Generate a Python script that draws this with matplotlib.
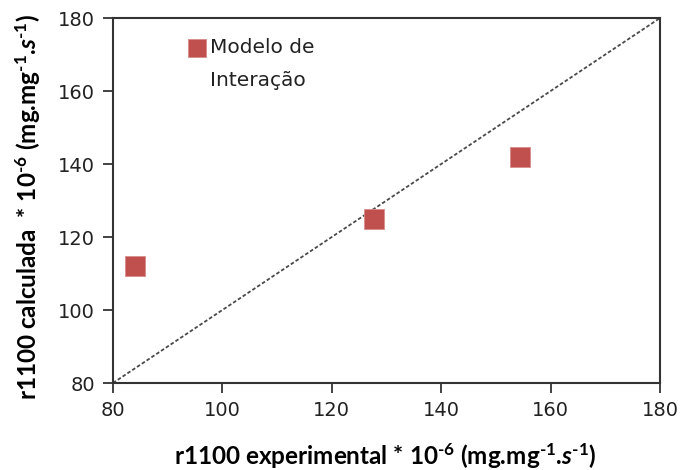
import matplotlib as mpl
import matplotlib.pyplot as plt

mpl.rcParams.update({
    "font.family": ["DejaVu Sans"],
    "mathtext.fontset": "custom",
    "mathtext.rm": "Lato:bold",
    "mathtext.it": "Lato:bold:italic",
    "mathtext.bf": "Lato:bold",
    "mathtext.default": "rm",
})

# data
r_exp = [84.0, 127.7, 154.4]
r_calc = [112.0, 125.0, 142.0]
series_label = ["Modelo de", "Interação"]
ticks = [80, 100, 120, 140, 160, 180]

RED = "#C0504D"

fig = plt.figure(figsize=(6.83, 4.70), dpi=100)
ax = fig.add_axes([0.1654, 0.1851, 0.801, 0.7766])

ax.plot([80, 180], [80, 180], ls=(0, (2.0, 1.2)), color="#4a4a4a", lw=1.3, zorder=1)
ax.scatter(r_exp, r_calc, marker="s", s=200, color=RED, edgecolors="#D98C8A",
           linewidths=0.6, zorder=3)

ax.set_xlim(80, 180)
ax.set_ylim(80, 180)
ax.set_xticks(ticks)
ax.set_yticks(ticks)
ax.tick_params(direction="out", length=7, width=1.2, labelsize=14,
               colors="#222222", pad=6)
for s in ax.spines.values():
    s.set_linewidth(1.5)
    s.set_color("#333333")

lab_font = dict(family="Lato", weight="bold", size=17.5)
ax.set_xlabel(r"r1100 experimental * 10$^{\text{-6}}$ (mg.mg$^{\text{-1}}$.$\mathit{s}$$^{\text{-1}}$)",
              **lab_font)
ax.set_ylabel(r"r1100 calculada  * 10$^{\text{-6}}$ (mg.mg$^{\text{-1}}$.$\mathit{s}$$^{\text{-1}}$)",
              **lab_font)
ax.xaxis.set_label_coords(0.497, -0.16)
ax.yaxis.set_label_coords(-0.128, 0.482)

# legend drawn by hand: marker beside the first line of a two-line label
ax.scatter([0.1536], [0.918], marker="s", s=170, color=RED, edgecolors="#D98C8A",
           linewidths=0.6, transform=ax.transAxes, clip_on=False)
ax.text(0.177, 0.918, series_label[0], transform=ax.transAxes, ha="left",
        va="center", fontsize=14.5, color="#222222")
ax.text(0.177, 0.830, series_label[1], transform=ax.transAxes, ha="left",
        va="center", fontsize=14.5, color="#222222")

fig.savefig("out.png", dpi=100)
